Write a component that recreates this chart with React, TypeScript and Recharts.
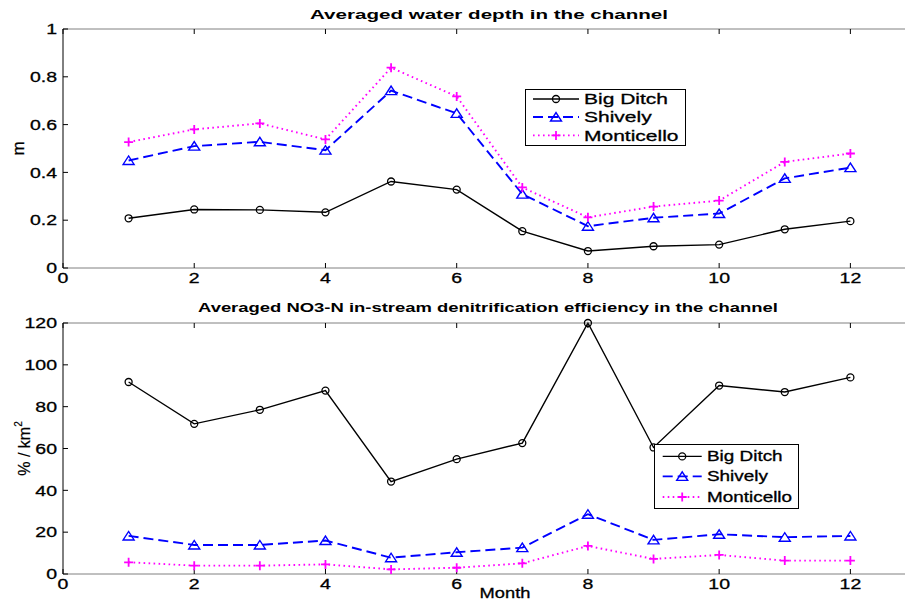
import React from "react";
import { LineChart, Line, XAxis, YAxis, Legend } from "recharts";

// month index shared by both panels
const months = [1, 2, 3, 4, 5, 6, 7, 8, 9, 10, 11, 12];

// averaged water depth (m)
const depthBigDitch = [0.208, 0.245, 0.243, 0.233, 0.362, 0.328, 0.154, 0.071, 0.091, 0.098, 0.162, 0.196];
const depthShively = [0.45, 0.51, 0.528, 0.493, 0.742, 0.647, 0.309, 0.175, 0.21, 0.228, 0.375, 0.42];
const depthMonticello = [0.527, 0.58, 0.605, 0.538, 0.838, 0.718, 0.337, 0.212, 0.257, 0.282, 0.444, 0.479];

// denitrification efficiency (% / km2)
const effBigDitch = [91.8, 71.8, 78.5, 87.7, 44.2, 54.9, 62.6, 120, 60.5, 90.1, 87, 94];
const effShively = [18.2, 13.9, 13.9, 16, 7.8, 10.4, 12.6, 28.6, 16.3, 19, 17.6, 18.2];
const effMonticello = [5.6, 4, 4, 4.6, 2.2, 3, 5.1, 13.4, 7.2, 9.1, 6.4, 6.4];

const xTicks = [0, 2, 4, 6, 8, 10, 12];
const depthTicks = [0, 0.2, 0.4, 0.6, 0.8, 1];
const effTicks = [0, 20, 40, 60, 80, 100, 120];

const seriesNames = ["Big Ditch", "Shively", "Monticello"];

const FONT = "Arial, 'Liberation Sans', Helvetica, sans-serif";
const SX = 1.3; // the original figure is stretched horizontally

const styles = [
  { key: "bigDitch", color: "#000000", dash: undefined, width: 1.4, marker: "circle" },
  { key: "shively", color: "#0000ff", dash: "10 5", width: 1.9, marker: "triangle" },
  { key: "monticello", color: "#ff00ff", dash: "1.6 3.4", width: 1.9, marker: "plus" },
];

const depthData = months.map((m, i) => ({
  month: m,
  bigDitch: depthBigDitch[i],
  shively: depthShively[i],
  monticello: depthMonticello[i],
}));

const effData = months.map((m, i) => ({
  month: m,
  bigDitch: effBigDitch[i],
  shively: effShively[i],
  monticello: effMonticello[i],
}));

function Marker({ kind, cx, cy }: { kind: string; cx: number; cy: number }) {
  if (kind === "circle")
    return <circle cx={cx} cy={cy} r={3.5} fill="none" stroke="#000" strokeWidth={1.3} />;
  if (kind === "triangle")
    return (
      <polygon
        points={`${cx - 5.5},${cy + 4} ${cx + 5.5},${cy + 4} ${cx},${cy - 4.5}`}
        fill="none"
        stroke="#0000ff"
        strokeWidth={1.4}
      />
    );
  return (
    <path
      d={`M${cx - 4.5},${cy}H${cx + 4.5}M${cx},${cy - 4.5}V${cy + 4.5}`}
      stroke="#ff00ff"
      strokeWidth={1.8}
    />
  );
}

function SText(props: any) {
  const { x, y, sx = SX, size = 15, bold, anchor = "middle", children, textLength } = props;
  return (
    <g transform={`translate(${x} ${y}) scale(${sx} 1)`}>
      <text
        x={0}
        y={0}
        fontFamily={FONT}
        fontSize={size}
        fontWeight={bold ? "bold" : "normal"}
        textAnchor={anchor}
        dominantBaseline="central"
        fill="#000"
        stroke={bold ? "none" : "#000"}
        strokeWidth={0.3}
        textLength={textLength}
        lengthAdjust="spacingAndGlyphs"
      >
        {children}
      </text>
    </g>
  );
}

const xTick = (p: any) => (
  <SText key={`x-${p.index}`} x={p.x} y={p.y + 10}>
    {p.payload.value}
  </SText>
);

const yTick = (p: any) => (
  <SText key={`y-${p.index}`} x={p.x - 6} y={p.y} anchor="end">
    {p.payload.value}
  </SText>
);

const noTick = (p: any) => <g key={`n-${p.index}`} />;

function LegendBox({ w, h, rows, x1, x2, tx, size, sx }: any) {
  return (
    <svg width={w} height={h} style={{ display: "block", overflow: "visible" }}>
      <rect x={0.5} y={0.5} width={w - 1} height={h - 1} fill="#fff" stroke="#000" strokeWidth={1} />
      {styles.map((s, i) => (
        <g key={s.key}>
          <line
            x1={x1}
            x2={x2}
            y1={rows[i]}
            y2={rows[i]}
            stroke={s.color}
            strokeWidth={s.width}
            strokeDasharray={s.dash}
          />
          <Marker kind={s.marker} cx={(x1 + x2) / 2} cy={rows[i]} />
          <SText x={tx} y={rows[i]} anchor="start" size={size} sx={sx}>
            {seriesNames[i]}
          </SText>
        </g>
      ))}
    </svg>
  );
}

function renderLines() {
  return styles.map((s, i) => (
    <Line
      key={s.key}
      type="linear"
      dataKey={s.key}
      name={seriesNames[i]}
      stroke={s.color}
      strokeWidth={s.width}
      strokeDasharray={s.dash}
      isAnimationActive={false}
      activeDot={false}
      dot={(p: any) => <Marker key={`${s.key}-${p.index}`} kind={s.marker} cx={p.cx} cy={p.cy} />}
    />
  ));
}

function Title({ x, y, w, children }: any) {
  return (
    <SText x={x} y={y} size={13} bold sx={1} textLength={w}>
      {children}
    </SText>
  );
}

export default function App() {
  return (
    <div
      style={{
        position: "fixed",
        left: 0,
        top: 0,
        width: 905,
        height: 602,
        overflow: "hidden",
        background: "#fff",
      }}
    >
      <div style={{ position: "absolute", left: 0, top: 0 }}>
        <LineChart width={920} height={300} data={depthData} margin={{ top: 28, right: 4, left: 0, bottom: 0 }}>
          <XAxis
            xAxisId="top"
            orientation="top"
            type="number"
            dataKey="month"
            domain={[0, 13]}
            ticks={xTicks}
            height={1}
            tick={noTick}
            tickSize={-5}
            axisLine={{ stroke: "#808080" }}
            tickLine={{ stroke: "#000" }}
            label={{
              content: () => (
                <Title x={489} y={14} w={358}>
                  Averaged water depth in the channel
                </Title>
              ),
            }}
          />
          <XAxis
            type="number"
            dataKey="month"
            domain={[0, 13]}
            ticks={xTicks}
            height={32}
            tickSize={-5}
            tickMargin={5}
            axisLine={{ stroke: "#808080" }}
            tickLine={{ stroke: "#000" }}
            tick={xTick}
          />
          <YAxis
            type="number"
            domain={[0, 1]}
            ticks={depthTicks}
            width={63}
            tickSize={-5}
            tickMargin={5}
            axisLine={{ stroke: "#000" }}
            tickLine={{ stroke: "#000" }}
            tick={yTick}
            label={{
              content: (p: any) => {
                const vb = p.viewBox || { x: 0, y: 29, height: 239 };
                const cy = vb.y + vb.height / 2;
                return (
                  <g transform={`rotate(-90 18 ${cy})`}>
                    <text
                      x={18}
                      y={cy}
                      fontFamily={FONT}
                      fontSize={17}
                      textAnchor="middle"
                      dominantBaseline="central"
                      stroke="#000"
                      strokeWidth={0.3}
                    >
                      m
                    </text>
                  </g>
                );
              },
            }}
          />
          {renderLines()}
          <Legend
            layout="horizontal"
            verticalAlign="middle"
            align="center"
            wrapperStyle={{ left: 525, top: 89, width: 161, height: 57 }}
            content={() => (
              <LegendBox w={161} h={57} rows={[10, 28, 46.4]} x1={8} x2={54} tx={59} size={15} sx={1.4} />
            )}
          />
        </LineChart>
      </div>
      <div style={{ position: "absolute", left: 0, top: 300 }}>
        <LineChart width={920} height={302} data={effData} margin={{ top: 22, right: 4, left: 0, bottom: 0 }}>
          <XAxis
            xAxisId="top"
            orientation="top"
            type="number"
            dataKey="month"
            domain={[0, 13]}
            ticks={xTicks}
            height={1}
            tick={noTick}
            tickSize={-5}
            axisLine={{ stroke: "#808080" }}
            tickLine={{ stroke: "#000" }}
            label={{
              content: () => (
                <Title x={488} y={7} w={580}>
                  Averaged NO3-N in-stream denitrification efficiency in the channel
                </Title>
              ),
            }}
          />
          <XAxis
            type="number"
            dataKey="month"
            domain={[0, 13]}
            ticks={xTicks}
            height={28}
            tickSize={-5}
            tickMargin={5}
            axisLine={{ stroke: "#808080" }}
            tickLine={{ stroke: "#000" }}
            tick={xTick}
            label={{
              content: () => (
                <SText x={505} y={293} size={15} sx={1.22}>
                  Month
                </SText>
              ),
            }}
          />
          <YAxis
            type="number"
            domain={[0, 120]}
            ticks={effTicks}
            width={63}
            tickSize={-5}
            tickMargin={5}
            axisLine={{ stroke: "#000" }}
            tickLine={{ stroke: "#000" }}
            tick={yTick}
            label={{
              content: (p: any) => {
                const vb = p.viewBox || { x: 0, y: 23, height: 251 };
                const cy = vb.y + vb.height / 2;
                return (
                  <g transform={`rotate(-90 24 ${cy})`}>
                    <text
                      x={24}
                      y={cy}
                      fontFamily={FONT}
                      fontSize={16}
                      textAnchor="middle"
                      dominantBaseline="central"
                      stroke="#000"
                      strokeWidth={0.2}
                    >
                      % / km
                      <tspan fontSize={10} dy={-6}>
                        2
                      </tspan>
                    </text>
                  </g>
                );
              },
            }}
          />
          {renderLines()}
          <Legend
            layout="horizontal"
            verticalAlign="middle"
            align="center"
            wrapperStyle={{ left: 654, top: 144, width: 145, height: 65 }}
            content={() => (
              <LegendBox w={145} h={65} rows={[12.4, 32.4, 53]} x1={8.7} x2={47.7} tx={53} size={14} sx={1.35} />
            )}
          />
        </LineChart>
      </div>
    </div>
  );
}
